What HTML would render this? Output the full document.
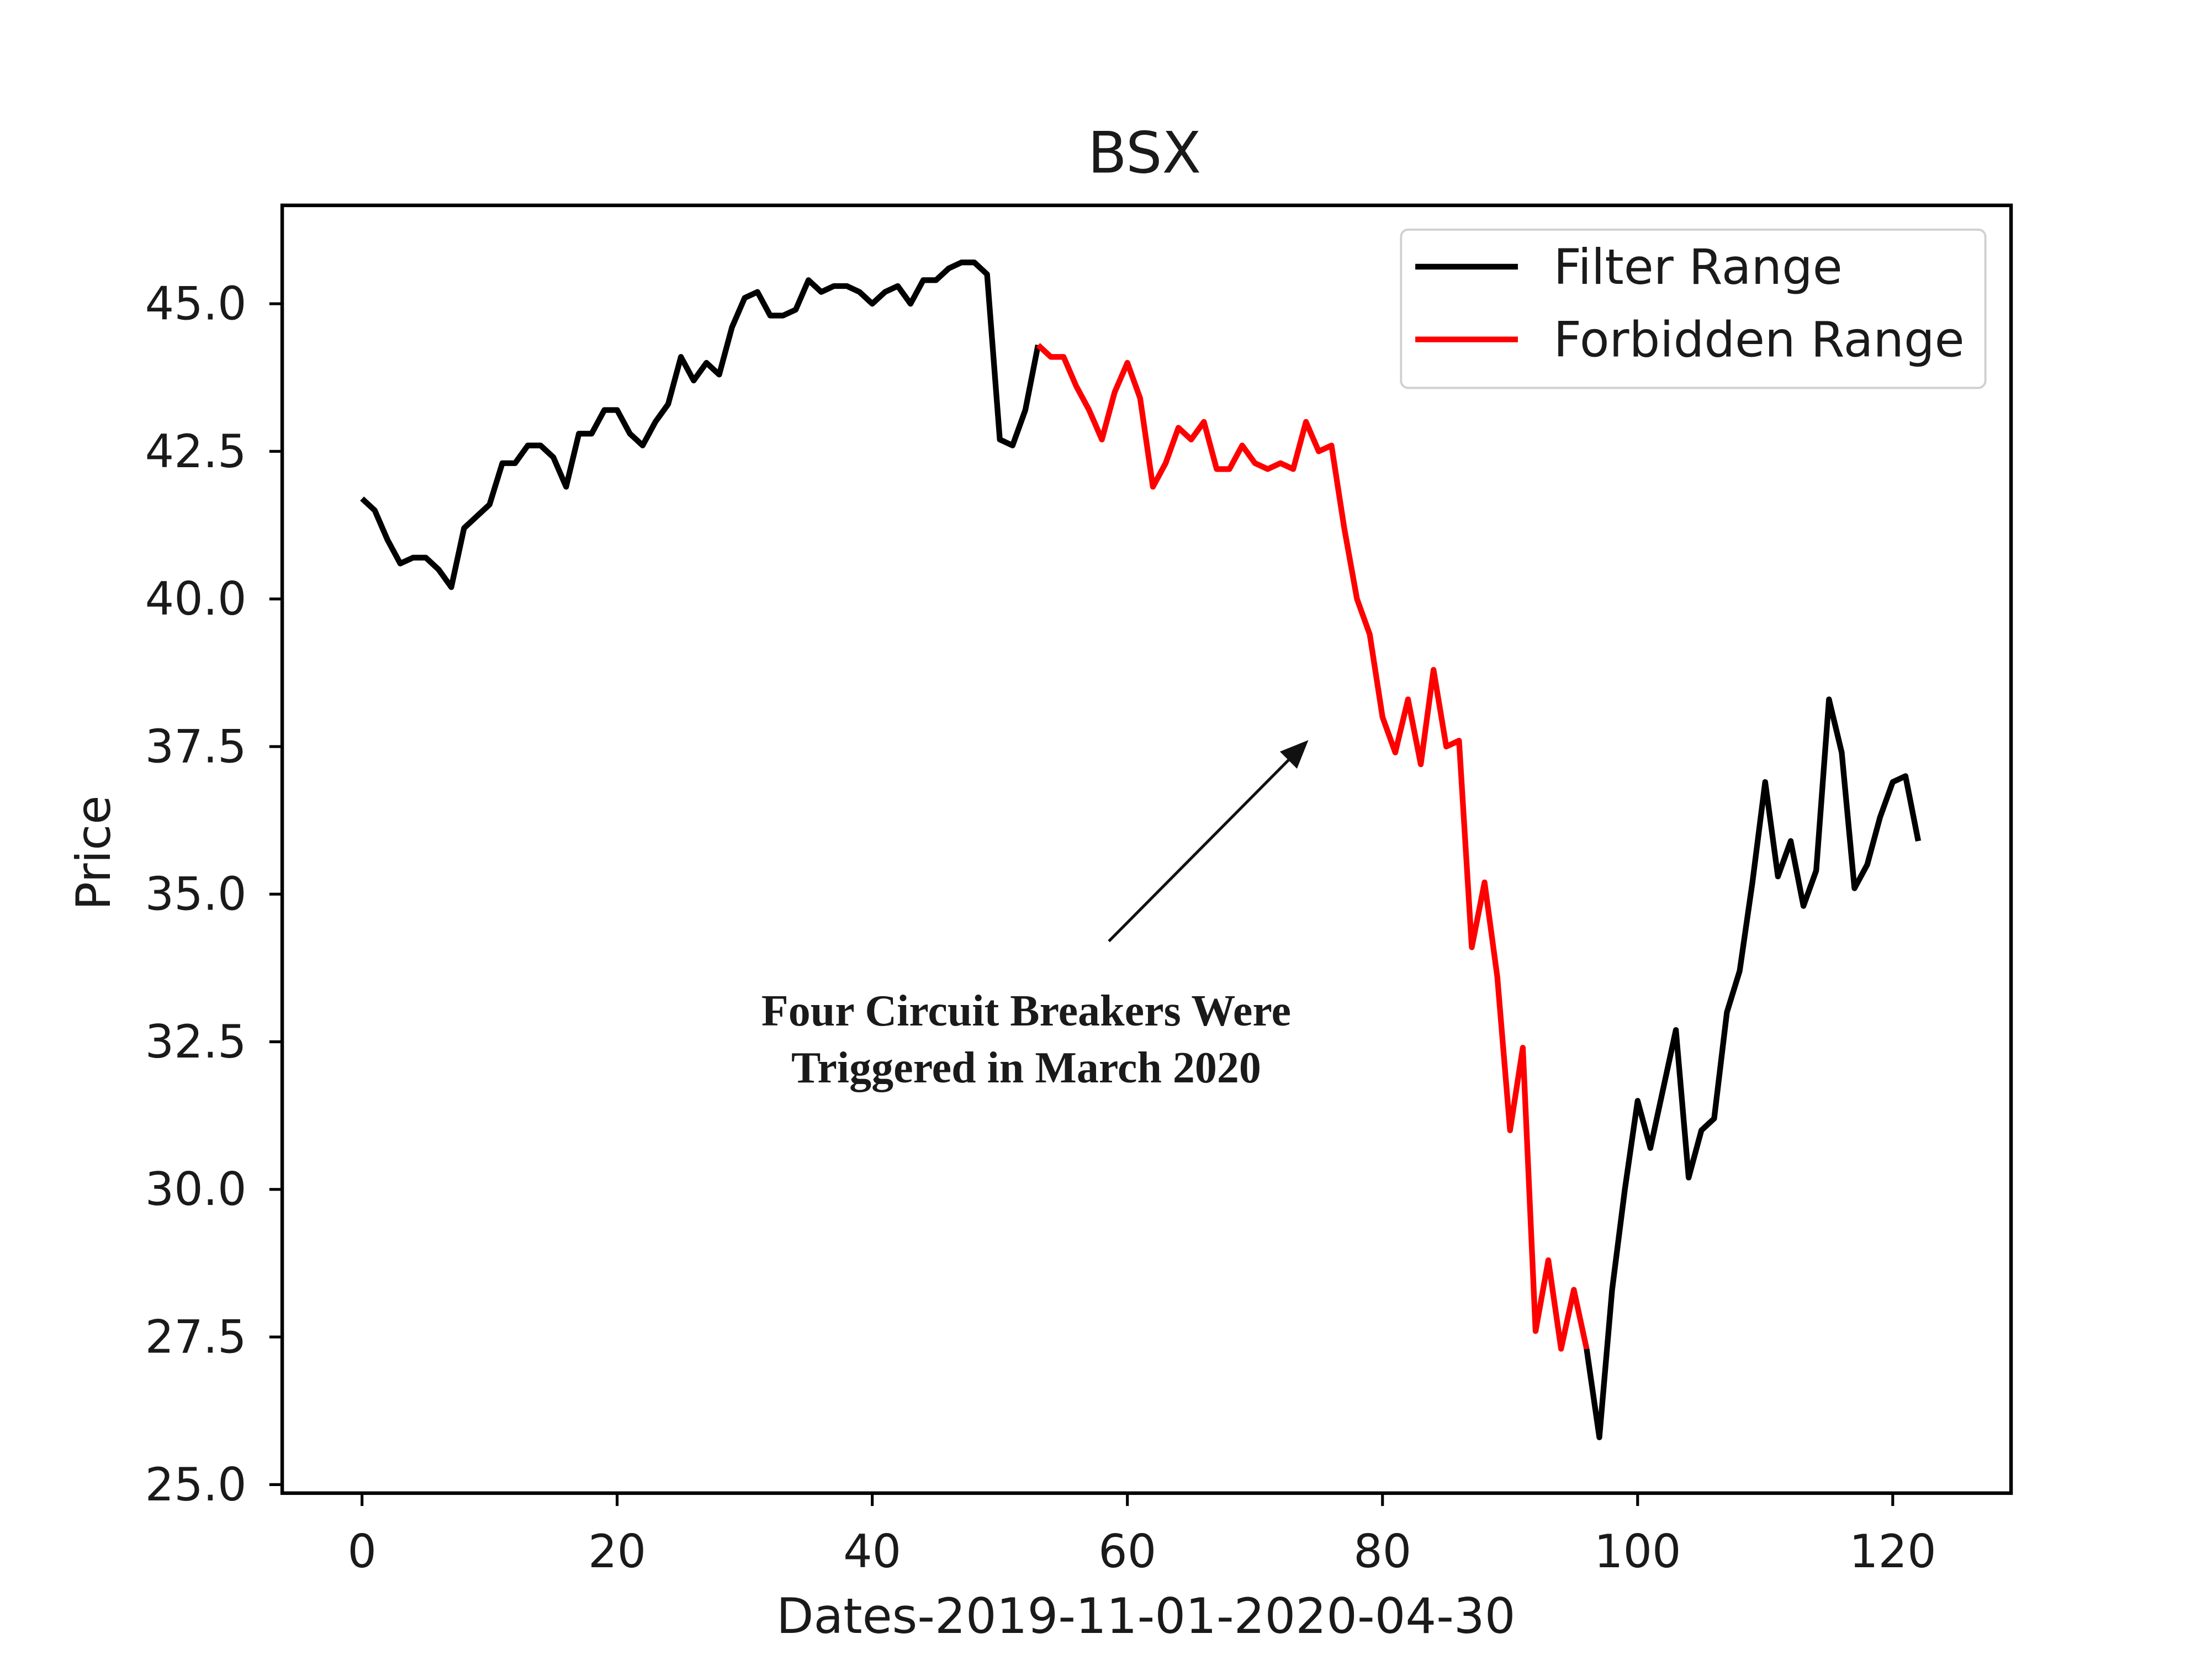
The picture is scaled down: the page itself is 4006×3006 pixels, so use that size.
<!DOCTYPE html>
<html><head><meta charset="utf-8"><style>
html,body{margin:0;padding:0;background:#fff;}
svg{display:block;}
text{font-family:"DejaVu Sans","Liberation Sans",sans-serif;fill:#1a1a1a;}
</style></head><body>
<svg id="chart" width="4006" height="3006" viewBox="0 0 1552 1164" preserveAspectRatio="none" xmlns="http://www.w3.org/2000/svg">
<rect width="1552" height="1164" fill="#fff"/>
<text x="803" y="121" font-size="40" text-anchor="middle">BSX</text>
<g id="axes"></g>
<g id="lines"></g>
<rect x="198" y="144" width="1213" height="903" fill="none" stroke="#000" stroke-width="2.5"/>
<text transform="translate(77,598) rotate(-90)" font-size="33" text-anchor="middle">Price</text>
<text x="804" y="1145" font-size="34" text-anchor="middle">Dates-2019-11-01-2020-04-30</text>
<g>
<line x1="778" y1="660" x2="907" y2="530" stroke="#111" stroke-width="2"/>
<polygon points="918,519 898,527 910,539" fill="#111"/>
<text x="720" y="719" font-size="31" font-weight="bold" text-anchor="middle" style="font-family:'Liberation Serif',serif">Four Circuit Breakers Were</text>
<text x="720" y="759" font-size="31" font-weight="bold" text-anchor="middle" style="font-family:'Liberation Serif',serif">Triggered in March 2020</text>
</g>
<g>
<rect x="983" y="161" width="410" height="111" rx="5" fill="#fff" stroke="#d0d0d0" stroke-width="1.5"/>
<line x1="993" y1="187" x2="1065" y2="187" stroke="#000" stroke-width="4"/>
<text x="1090" y="199" font-size="34">Filter Range</text>
<line x1="993" y1="238" x2="1065" y2="238" stroke="#f00" stroke-width="4"/>
<text x="1090" y="250" font-size="34">Forbidden Range</text>
</g>
</svg>
<script>
const prices = [41.7,41.5,41.0,40.6,40.7,40.7,40.5,40.2,41.2,41.4,41.6,42.3,42.3,42.6,42.6,42.4,41.9,42.8,42.8,43.2,43.2,42.8,42.6,43.0,43.3,44.1,43.7,44.0,43.8,44.6,45.1,45.2,44.8,44.8,44.9,45.4,45.2,45.3,45.3,45.2,45.0,45.2,45.3,45.0,45.4,45.4,45.6,45.7,45.7,45.5,42.7,42.6,43.2,44.3,44.1,44.1,43.6,43.2,42.7,43.5,44.0,43.4,41.9,42.3,42.9,42.7,43.0,42.2,42.2,42.6,42.3,42.2,42.3,42.2,43.0,42.5,42.6,41.2,40.0,39.4,38.0,37.4,38.3,37.2,38.8,37.5,37.6,34.1,35.2,33.6,31.0,32.4,27.6,28.8,27.3,28.3,27.3,25.8,28.3,30.0,31.5,30.7,31.7,32.7,30.2,31.0,31.2,33.0,33.7,35.2,36.9,35.3,35.9,34.8,35.4,38.3,37.4,35.1,35.5,36.3,36.9,37.0,35.9];
const forbiddenStart = 53;
const forbiddenEnd = 96;
const xTicks = [0,20,40,60,80,100,120];
const yTicks = [25.0,27.5,30.0,32.5,35.0,37.5,40.0,42.5,45.0];
const NS = "http://www.w3.org/2000/svg";
function xs(i){ return 254 + (i-0)*(1328-254)/120; }
function ys(v){ return 213 + (45-v)*(1041-213)/20; }
const axes = document.getElementById('axes');
xTicks.forEach(t=>{
  const l=document.createElementNS(NS,'line');
  
  
  l.setAttribute('x1',xs(t));l.setAttribute('x2',xs(t));l.setAttribute('y1',1047);l.setAttribute('y2',1056);
  l.setAttribute('stroke','#000');l.setAttribute('stroke-width','2');axes.appendChild(l);
  const tx=document.createElementNS(NS,'text');
  
  
  tx.setAttribute('x',xs(t));tx.setAttribute('y',1099);tx.setAttribute('font-size','32');tx.setAttribute('text-anchor','middle');
  tx.textContent=t;axes.appendChild(tx);
});
yTicks.forEach(t=>{
  const l=document.createElementNS(NS,'line');
  
  
  l.setAttribute('x1',189);l.setAttribute('x2',198);l.setAttribute('y1',ys(t));l.setAttribute('y2',ys(t));
  l.setAttribute('stroke','#000');l.setAttribute('stroke-width','2');axes.appendChild(l);
  const tx=document.createElementNS(NS,'text');
  
  
  tx.setAttribute('x',173);tx.setAttribute('y',ys(t)+11);tx.setAttribute('font-size','32');tx.setAttribute('text-anchor','end');
  tx.textContent=t.toFixed(1);axes.appendChild(tx);
});
const lines=document.getElementById('lines');
function seg(a,b,color,name){
  let d='';
  for(let i=a;i<=b;i++){ d+=(i===a?'M':'L')+xs(i).toFixed(2)+','+ys(prices[i]).toFixed(2); }
  const p=document.createElementNS(NS,'path');
  
  
  p.setAttribute('d',d);p.setAttribute('fill','none');p.setAttribute('stroke',color);
  p.setAttribute('stroke-width','4');p.setAttribute('stroke-linejoin','round');
  lines.appendChild(p);
}
seg(0,forbiddenStart,'#000','filter-range-line-pre');
seg(forbiddenEnd,prices.length-1,'#000','filter-range-line-post');
seg(forbiddenStart,forbiddenEnd,'#f00','forbidden-range-line');
</script>
</body></html>
